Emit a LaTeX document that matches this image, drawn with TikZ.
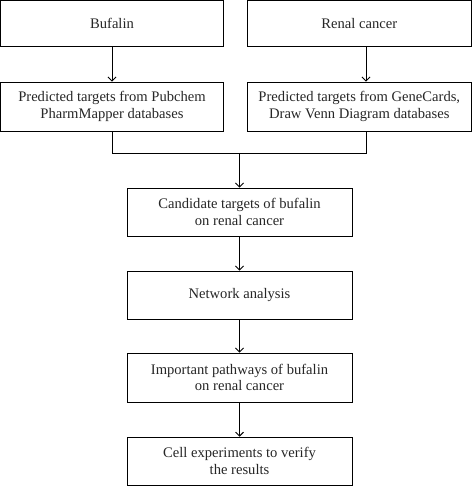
\documentclass[tikz,border=0pt]{standalone}
\usepackage{fontspec}
\setmainfont{Liberation Serif}
\usetikzlibrary{arrows.meta}
\begin{document}
\begin{tikzpicture}[x=1pt,y=1pt,
  box/.style={draw=black, line width=0.9pt, rectangle, align=center, inner sep=0pt,
    font=\fontsize{14.6}{16.7}\selectfont, text=black!85},
  arr/.style={draw=black, line width=0.9pt, -{Straight Barb[length=4pt,width=8pt]}},
  ln/.style={draw=black, line width=0.9pt}]
\useasboundingbox (0,0) rectangle (472,486);
\node[box, minimum width=223pt, minimum height=46pt] (b1) at (112,462.5) {Bufalin};
\node[box, minimum width=224pt, minimum height=46pt] (b2) at (359.3,462.5) {Renal cancer};
\node[box, minimum width=223pt, minimum height=49pt] (p1) at (112,379.5) {Predicted targets from Pubchem\\PharmMapper databases};
\node[box, minimum width=224pt, minimum height=49pt] (p2) at (359.3,379.5) {Predicted targets from GeneCards,\\Draw Venn Diagram databases};
\node[box, minimum width=225pt, minimum height=48pt] (c) at (239.5,274) {Candidate targets of bufalin\\on renal cancer};
\node[box, minimum width=225pt, minimum height=48pt] (n) at (239.5,191) {Network analysis};
\node[box, minimum width=225pt, minimum height=49pt] (i) at (239.5,108.5) {Important pathways of bufalin\\on renal cancer};
\node[box, minimum width=225pt, minimum height=48pt] (e) at (239.5,24.8) {Cell experiments to verify\\the results};
\coordinate (xr) at (366,0);
\coordinate (m) at (239.5,333);
\draw[arr] (b1) -- (p1);
\draw[arr] (b2.south -| xr) -- (p2.north -| xr);
\draw[ln] (p1.south) |- (m);
\draw[ln] (p2.south -| xr) |- (m);
\draw[arr] (m) -- (c);
\draw[arr] (c) -- (n);
\draw[arr] (n) -- (i);
\draw[arr] (i) -- (e);
\end{tikzpicture}
\end{document}
